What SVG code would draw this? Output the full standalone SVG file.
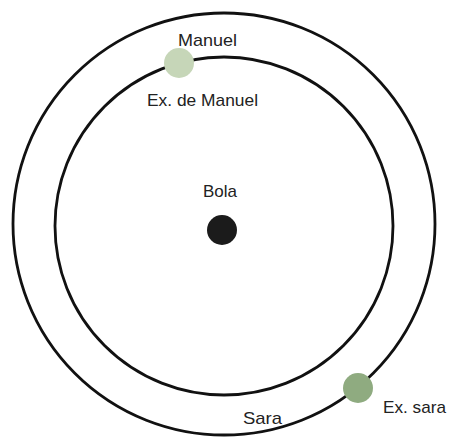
<svg xmlns="http://www.w3.org/2000/svg" width="449" height="437" viewBox="0 0 449 437">
<style>
.orbit{fill:none;stroke:#111;stroke-width:2.8}
.lbl{font-family:"Liberation Sans",Arial,sans-serif;font-size:17px;fill:#222}
</style>
<rect width="449" height="437" fill="#fff"/>
<g id="orbits">
<circle class="orbit" cx="224" cy="224" r="211"/>
<circle class="orbit" cx="224" cy="226" r="169"/>
</g>
<g id="bola">
<circle cx="222" cy="230" r="15" fill="#1b1b1b"/>
<text class="lbl" x="203" y="197" textLength="34" lengthAdjust="spacingAndGlyphs">Bola</text>
</g>
<g id="manuel">
<circle cx="179" cy="63" r="15" fill="#c6d6b8"/>
<text class="lbl" x="178" y="46" textLength="59" lengthAdjust="spacingAndGlyphs">Manuel</text>
<text class="lbl" x="147" y="106" textLength="111" lengthAdjust="spacingAndGlyphs">Ex. de Manuel</text>
</g>
<g id="sara">
<circle cx="358" cy="388" r="15" fill="#8fab80"/>
<text class="lbl" x="243" y="424" textLength="39" lengthAdjust="spacingAndGlyphs">Sara</text>
<text class="lbl" x="383" y="413" textLength="63" lengthAdjust="spacingAndGlyphs">Ex. sara</text>
</g>
</svg>
